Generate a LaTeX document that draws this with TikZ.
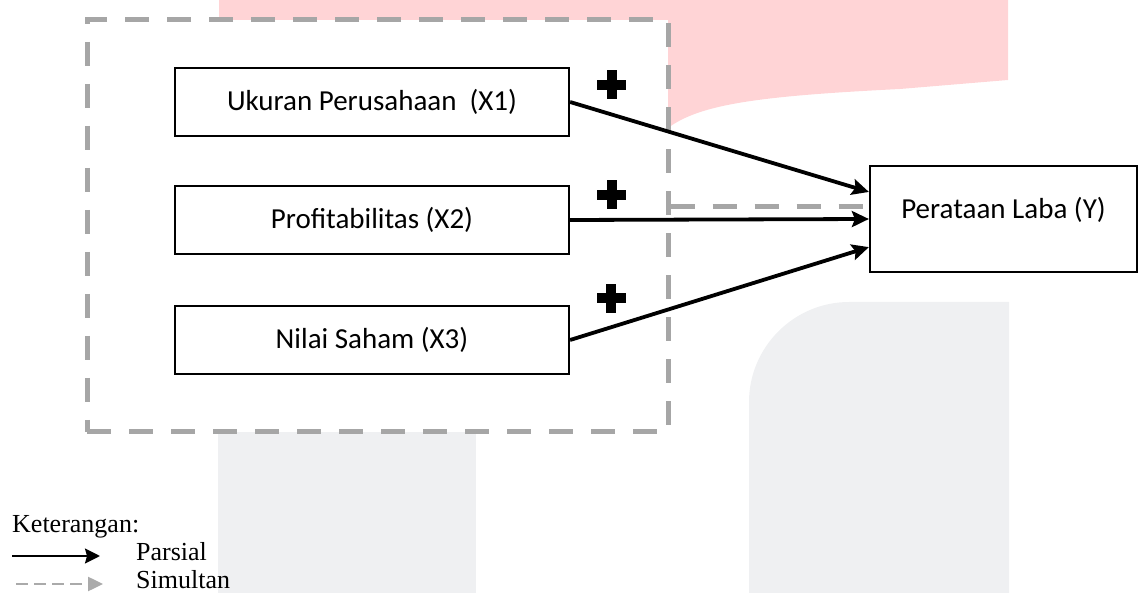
\documentclass[tikz,border=0pt]{standalone}
\usepackage{fontspec}
\setmainfont{Liberation Serif}
\newfontfamily\carlito{Carlito}
\usetikzlibrary{arrows.meta,calc}
\definecolor{dashgrey}{RGB}{166,166,166}
\definecolor{wmpink}{RGB}{255,212,214}
\definecolor{wmgrey}{RGB}{239,240,242}
\definecolor{leggrey}{RGB}{170,170,170}
\begin{document}
\begin{tikzpicture}[x=1pt,y=-1pt,
  varbox/.style={draw=black, line width=2.2pt, fill=white, minimum width=394pt, minimum height=68pt, inner sep=0pt, font=\carlito\fontsize{29pt}{34pt}\selectfont},
  grpbox/.style={draw=dashgrey, line width=5pt, dash pattern=on 24pt off 18pt, fill=white, minimum width=581pt, minimum height=412pt, inner sep=0pt},
  parsial/.style={draw=black, line width=3.8pt, -{Stealth[length=17pt,width=16pt,inset=3pt]}},
  simline/.style={draw=dashgrey, line width=5pt, dash pattern=on 24pt off 18pt},
  legtext/.style={font=\fontsize{26pt}{30pt}\selectfont, inner sep=0pt, anchor=base west}]
\useasboundingbox (0,0) rectangle (1138,593);
% watermark shapes
\fill[wmpink] (219,0) -- (1008,0) -- (1008,80) -- (900,89) .. controls (760,96) and (700,104) .. (668,128) -- (668,40) -- (219,40) -- cycle;
\fill[wmgrey] (218,420) rectangle (476,593);
\fill[wmgrey] (749,593) -- (749,402) .. controls (749,347) and (794,302) .. (849,302) -- (1009,302) -- (1009,593) -- cycle;
% group box
\node[grpbox] (grp) at (377.5,226) {};
% boxes
\node[varbox] (X1) at (372,102) {Ukuran Perusahaan\ \ (X1)};
\node[varbox] (X2) at (372,220) {Profitabilitas (X2)};
\node[varbox] (X3) at (372,340) {Nilai Saham (X3)};
\node[varbox, minimum width=267pt, minimum height=106pt, text height=20pt, text depth=20pt] (Y) at (1003.5,219) {Perataan Laba (Y)};
% simultaneous connector
\coordinate (sy) at (0,207);
\draw[simline] (grp.east |- sy) -- (Y.west |- sy);
% partial arrows
\draw[parsial] (X1.east) -- ($(Y.north west)!0.25!(Y.south west)$);
\draw[parsial] (X2.east) -- (Y.west);
\draw[parsial] (X3.east) -- ($(Y.north west)!0.76!(Y.south west)$);
% plus signs
\foreach \px/\py in {611.5/85, 611.5/195, 611/298.5} {
  \fill[black] ($(\px,\py)+(-14.5,-5)$) rectangle ++(29,10);
  \fill[black] ($(\px,\py)+(-5,-14.5)$) rectangle ++(10,29);
}
% legend
\node[legtext] (ket) at (12,532) {Keterangan:};
\coordinate (pa1) at (12,556);
\coordinate (pa2) at (100,556);
\draw[line width=2pt, -{Stealth[length=15pt,width=15pt,inset=2pt]}] (pa1) -- (pa2);
\node[legtext] (par) at (136,560) {Parsial};
\coordinate (sa1) at (16,584);
\coordinate (sa2) at (103,584);
\draw[draw=leggrey, line width=2.5pt, dash pattern=on 12pt off 6pt, -{Triangle[length=15pt,width=14pt,fill=leggrey]}] (sa1) -- (sa2);
\node[legtext] (sim) at (136,588.5) {Simultan};
\end{tikzpicture}
\end{document}
